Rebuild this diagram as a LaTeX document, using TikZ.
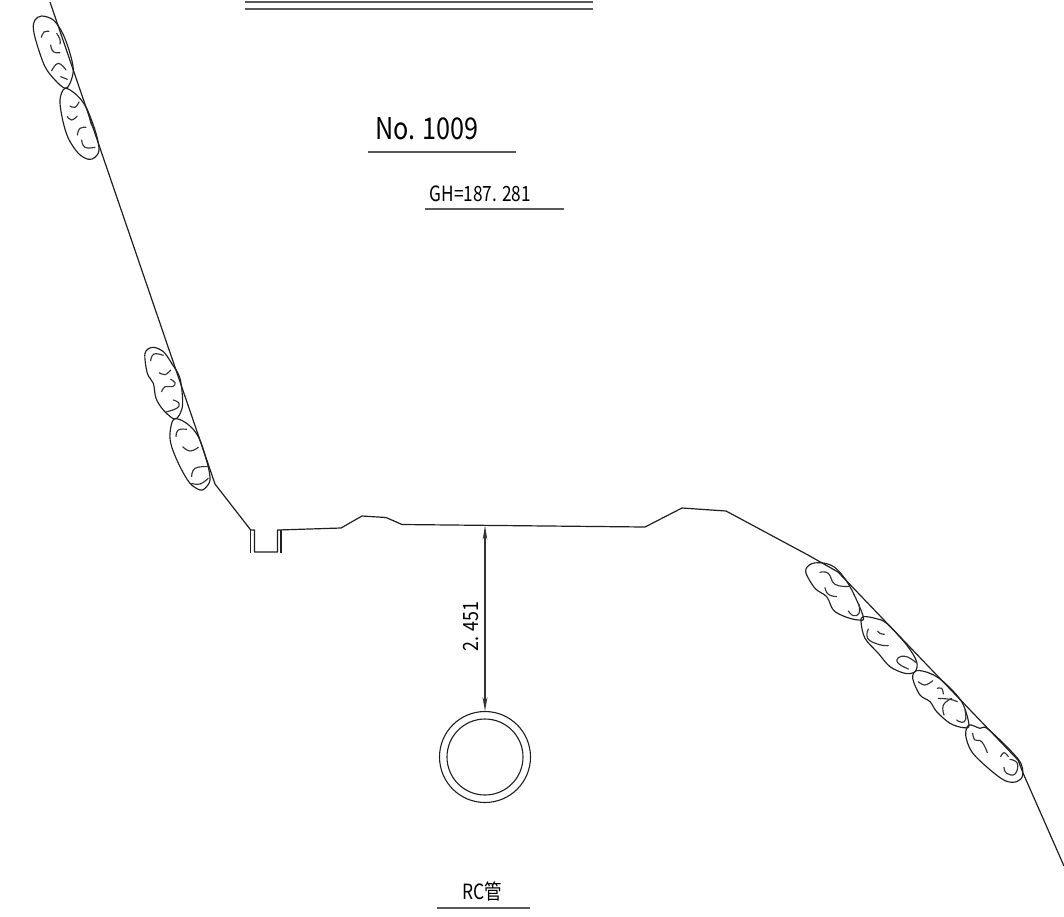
\documentclass[tikz,border=0pt]{standalone}
\usepackage{fontspec}
\newfontfamily\cadfont{Noto Sans CJK JP}
\usetikzlibrary{arrows.meta}
\tikzset{
  ln/.style={draw=black!88,line width=1.2pt,line join=round},
  rule/.style={draw=black!65,line width=1.9pt},
  rock/.style={draw=black!88,line width=1.15pt,smooth cycle,tension=.55},
  crack/.style={draw=black!80,line width=1.15pt,line cap=round},
  cadtext/.style={inner sep=0pt,text=black},
}
\newcommand{\ck}[1]{\draw[crack] plot[smooth,tension=.8] coordinates {#1};}
\begin{document}
\begin{tikzpicture}[x=1pt,y=-1pt]
\useasboundingbox (0,0) rectangle (1064,916);
\fill[white] (0,0) rectangle (1064,916);
% top rule
\foreach \yy in {1.8,9.3}{\draw[rule] (245,\yy) -- (593,\yy);}
% ground
\coordinate (g0) at (50,2);
\coordinate (g1) at (215,484);
\coordinate (g2) at (250.7,530);
\draw[ln] (g0) -- (g1) -- (g2) -- (254.5,530) -- (254.5,552) -- (277.5,552) -- (277.5,530) -- (341,528) -- (362,516) -- (386,517.5) -- (402,524.5) -- (645,527) -- (682,508) -- (726,511) -- (808,555) -- (838,572) -- (1018,760) -- (1023,773) -- (1064,866);
\draw[ln] (250.7,530) -- (250.7,553);
\draw[ln] (281,553) -- (281,530);
% upper left rocks
\begin{scope}[x=.3333pt,y=-.3333pt,xshift=20pt]
\draw[rock] plot coordinates {(65,48) (100,60) (128,100) (150,160) (160,210) (150,250) (135,265) (105,240) (75,200) (50,130) (40,85) (45,60)};
\draw[rock] plot coordinates {(135,265) (170,285) (200,325) (228,400) (237,450) (225,472) (205,478) (175,460) (145,415) (128,360) (120,300)};
\ck{(64,112) (72,96) (87,94)}
\ck{(110,100) (120,118) (120,132)}
\ck{(92,135) (100,155) (120,158)}
\ck{(95,212) (115,190) (138,210)}
\ck{(122,230) (142,238)}
\ck{(150,318) (165,322) (177,306)}
\ck{(142,350) (155,360) (172,348)}
\ck{(172,405) (180,385) (198,382)}
\ck{(185,420) (195,442) (225,442)}
\ck{(208,350) (215,375) (225,385)}
\end{scope}
% middle left rocks
\begin{scope}[x=.3333pt,y=-.3333pt,xshift=130pt,yshift=-340pt]
\draw[rock] plot coordinates {(68,22) (100,35) (125,70) (150,115) (158,190) (148,225) (132,237) (100,210) (78,175) (70,130) (52,100) (45,40)};
\draw[rock] plot coordinates {(132,237) (170,250) (205,290) (232,370) (240,420) (225,445) (210,450) (180,430) (150,380) (125,320) (120,280)};
\ck{(62,62) (72,42) (100,46)}
\ck{(88,98) (105,104) (122,90)}
\ck{(122,118) (135,128) (128,140) (105,140) (95,155)}
\ck{(130,180) (147,190) (140,205) (110,215)}
\ck{(138,290) (145,270) (170,268)}
\ck{(158,320) (180,333) (205,322)}
\ck{(185,410) (195,385) (232,380)}
\ck{(185,430) (210,432) (235,415)}
\end{scope}
% right rocks
\begin{scope}[x=.3333pt,y=-.3333pt,xshift=795pt,yshift=-555pt]
\draw[rock] plot coordinates {(50,26) (90,25) (125,42) (165,95) (205,185) (190,195) (150,185) (115,165) (95,125) (60,100) (32,50)};
\draw[rock] plot coordinates {(205,185) (240,190) (275,205) (335,270) (365,320) (360,350) (330,355) (285,335) (250,295) (210,250) (198,200)};
\ck{(75,52) (100,55) (120,88) (162,94)}
\ck{(90,98) (100,118) (125,125)}
\ck{(160,168) (175,182) (192,175) (192,148)}
\ck{(248,228) (255,235) (268,238)}
\ck{(220,222) (218,250) (250,268) (280,272)}
\ck{(340,342) (310,325) (310,308) (335,305) (362,322)}
\end{scope}
\begin{scope}[x=.3333pt,y=-.3333pt,xshift=900pt,yshift=-660pt]
\draw[rock] plot coordinates {(50,32) (90,40) (130,65) (185,125) (207,195) (190,203) (150,190) (110,155) (90,125) (60,105) (38,55)};
\draw[rock] plot coordinates {(207,195) (240,205) (265,208) (355,298) (368,345) (350,365) (315,362) (265,325) (215,275) (197,225)};
\ck{(55,65) (75,75) (98,62)}
\ck{(112,85) (125,85) (130,102)}
\ck{(115,115) (150,118) (172,125)}
\ck{(155,115) (130,135) (132,165)}
\ck{(170,180) (185,187) (197,178) (195,150)}
\ck{(218,220) (225,240) (245,245) (262,278)}
\ck{(302,290) (312,278) (325,290)}
\ck{(312,322) (320,340) (345,342) (352,310) (330,298)}
\end{scope}
% pipe
\node[circle,draw=black!88,line width=1.1pt,minimum size=91pt,inner sep=0pt] (pipeo) at (485,757) {};
\node[circle,draw=black!88,line width=1.1pt,minimum size=76pt,inner sep=0pt] (pipei) at (485,757) {};
\coordinate (gp) at (485,525.5);
\draw[draw=black!80,line width=1.1pt,{Stealth[length=14pt,width=4.5pt,inset=4pt]}-{Stealth[open,length=14pt,width=5pt]}] (gp) -- (pipeo.north);
% texts
\node[cadtext,font=\cadfont\fontsize{30}{30}\selectfont,xscale=.84,anchor=base] (no) at (427,139) {No. 1009};
\draw[rule] (368,152) -- (516,152);
\node[cadtext,font=\cadfont\fontsize{21}{21}\selectfont,xscale=.82,anchor=base] (gh) at (480.5,201) {GH=187. 281};
\draw[rule] (425,209) -- (564,209);
\node[cadtext,font=\cadfont\fontsize{21}{21}\selectfont,anchor=base,rotate=90] (dimv) at (478.5,626.5) {\scalebox{.85}[1]{2. 451}};
\node[cadtext,font=\cadfont\fontsize{21}{21}\selectfont,xscale=.83,anchor=base] (rc) at (482,899) {RC管};
\draw[rule] (437,908) -- (530,908);
\end{tikzpicture}
\end{document}
